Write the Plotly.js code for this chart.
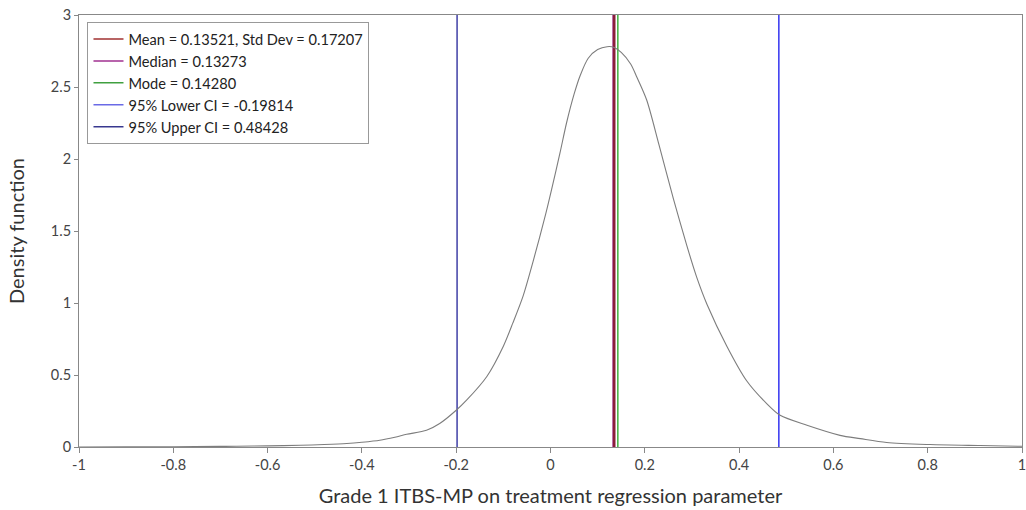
<!DOCTYPE html>
<html>
<head>
<meta charset="utf-8">
<script src="https://cdn.plot.ly/plotly-3.0.1.min.js"></script>
<style>html,body{margin:0;padding:0;background:#fff;}#chart{width:1026px;height:510px;}</style>
</head>
<body>
<div id="chart"></div>
<script>
// Density curve
const densX = [-1.0, -0.9, -0.8, -0.7, -0.666, -0.6, -0.53, -0.48, -0.432, -0.4, -0.362, -0.33, -0.305, -0.263, -0.235, -0.2, -0.178, -0.135, -0.1, -0.08, -0.058, -0.036, -0.01, 0.0025, 0.02, 0.034, 0.05, 0.063, 0.08, 0.1, 0.12, 0.135, 0.15, 0.17, 0.183, 0.204, 0.23, 0.261, 0.289, 0.31, 0.332, 0.374, 0.416, 0.459, 0.487, 0.544, 0.614, 0.657, 0.713, 0.805, 0.911, 1.0];
const densY = [0.0, 0.001, 0.002, 0.004, 0.005, 0.008, 0.012, 0.017, 0.024, 0.033, 0.047, 0.068, 0.088, 0.116, 0.163, 0.255, 0.325, 0.49, 0.70, 0.86, 1.05, 1.30, 1.62, 1.79, 2.04, 2.25, 2.45, 2.58, 2.70, 2.76, 2.78, 2.775, 2.74, 2.66, 2.57, 2.41, 2.10, 1.72, 1.40, 1.18, 0.99, 0.70, 0.46, 0.30, 0.22, 0.151, 0.081, 0.058, 0.031, 0.017, 0.01, 0.005];

// Summary statistics
const statNames = ["Mean = 0.13521, Std Dev = 0.17207", "Median = 0.13273", "Mode = 0.14280", "95% Lower CI = -0.19814", "95% Upper CI = 0.48428"];
const statValues = [0.13521, 0.13273, 0.14280, -0.19814, 0.48428];
const legendColors = ["#a03030", "#a03090", "#40a040", "#6a6ae6", "#38388f"];
const lineColors = ["#8a1f3a", "#9a2a80", "#40b040", "#3f3fa6", "#3434f0"];
const lineWidths = [2.5, 1.5, 1.5, 1.5, 1.5];

const yMin = 0, yMax = 3;
const xTicks = [-1, -0.8, -0.6, -0.4, -0.2, 0, 0.2, 0.4, 0.6, 0.8, 1];
const xTickText = ["-1", "-0.8", "-0.6", "-0.4", "-0.2", "0", "0.2", "0.4", "0.6", "0.8", "1"];
const yTicks = [0, 0.5, 1, 1.5, 2, 2.5, 3];
const yTickText = ["0", "0.5", "1", "1.5", "2", "2.5", "3"];

const traces = [];
const order = [3, 4, 2, 1, 0];
order.forEach(i => {
  traces.push({
    x: [statValues[i], statValues[i]], y: [yMin, yMax],
    type: "scatter", mode: "lines", showlegend: false, hoverinfo: "skip",
    line: {color: lineColors[i], width: lineWidths[i]}
  });
});
traces.push({
  x: densX, y: densY, type: "scatter", mode: "lines", showlegend: false,
  line: {color: "#7d7d7d", width: 1.1, shape: "spline", smoothing: 0.8}
});
statNames.forEach((n, i) => {
  traces.push({
    x: [null], y: [null], type: "scatter", mode: "lines", name: n,
    line: {color: legendColors[i], width: 1.5}
  });
});

const font = "Lato, 'Open Sans', sans-serif";
const layout = {
  width: 1026, height: 510,
  margin: {l: 79, r: 4, t: 15, b: 63},
  paper_bgcolor: "#fff", plot_bgcolor: "#fff",
  font: {family: font, size: 14, color: "#333"},
  showlegend: true,
  legend: {
    x: 0.009, y: 0.984, xanchor: "left", yanchor: "top",
    bgcolor: "#fff", bordercolor: "#999", borderwidth: 1,
    font: {family: font, size: 14.6, color: "#222"},
    tracegroupgap: 0, itemwidth: 30
  },
  xaxis: {
    range: [-1, 1], tickvals: xTicks, ticktext: xTickText,
    showgrid: false, zeroline: false, showline: true, linecolor: "#888", linewidth: 1, mirror: true,
    ticks: "outside", ticklen: 5, tickcolor: "#888", ticklabeloverflow: "allow",
    tickfont: {family: font, size: 14.5, color: "#444"},
    title: {text: "Grade 1 ITBS-MP on treatment regression parameter", font: {family: font, size: 20, color: "#333"}, standoff: 16}
  },
  yaxis: {
    range: [yMin, yMax], tickvals: yTicks, ticktext: yTickText,
    showgrid: false, zeroline: false, showline: true, linecolor: "#888", linewidth: 1, mirror: true,
    ticks: "outside", ticklen: 4, tickcolor: "#888", ticklabeloverflow: "allow",
    tickfont: {family: font, size: 14.5, color: "#444"},
    title: {text: "Density function", font: {family: font, size: 20, color: "#333"}, standoff: 20}
  }
};
Plotly.newPlot("chart", traces, layout, {displayModeBar: false, staticPlot: true});
</script>
</body>
</html>
